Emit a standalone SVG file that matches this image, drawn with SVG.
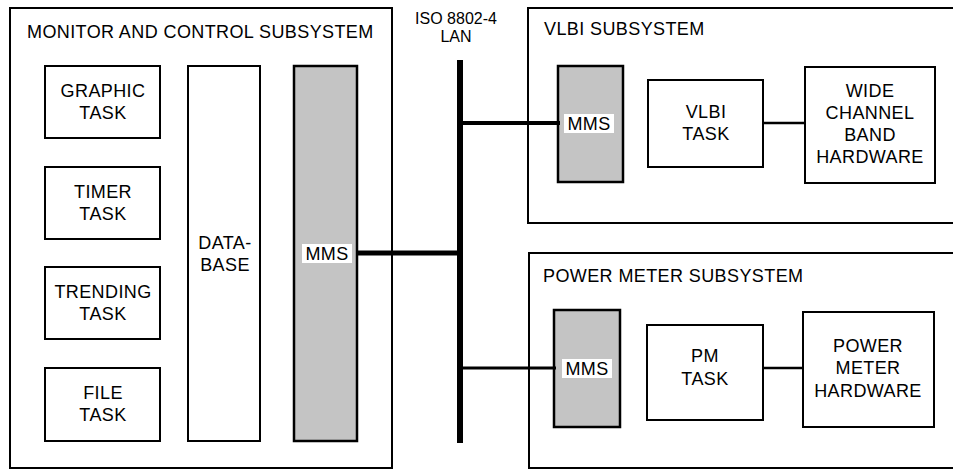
<svg xmlns="http://www.w3.org/2000/svg" width="953" height="470" viewBox="0 0 953 470">
<style>
text{font-family:"Liberation Sans",Arial,sans-serif;font-size:18px;letter-spacing:0.4px;fill:#000}
.c{text-anchor:middle}
.sm{font-size:16px;letter-spacing:0}
.box{fill:#fff;stroke:#000;stroke-width:2}
.sub{fill:none;stroke:#000;stroke-width:2}
.mms{fill:#c4c4c4;stroke:#000;stroke-width:2.5}
.lbl{fill:#fff;stroke:none}
.wire{stroke:#000;fill:none}
</style>
<rect width="953" height="470" fill="#fff"/>
<g id="mc-subsystem">
<rect class="sub" x="10" y="8" width="382" height="460"/>
<text x="27" y="38">MONITOR AND CONTROL SUBSYSTEM</text>
</g>
<g id="graphic-task"><rect class="box" x="45" y="66" width="115" height="72"/><text class="c" x="103" y="97">GRAPHIC</text><text class="c" x="103" y="119">TASK</text></g>
<g id="timer-task"><rect class="box" x="45" y="167" width="115" height="72"/><text class="c" x="103" y="198">TIMER</text><text class="c" x="103" y="220">TASK</text></g>
<g id="trending-task"><rect class="box" x="45" y="267" width="115" height="72"/><text class="c" x="103" y="298">TRENDING</text><text class="c" x="103" y="320">TASK</text></g>
<g id="file-task"><rect class="box" x="45" y="368" width="115" height="73"/><text class="c" x="103" y="399">FILE</text><text class="c" x="103" y="421">TASK</text></g>
<g id="database"><rect class="box" x="188" y="66" width="72" height="375"/><text class="c" x="225" y="249">DATA-</text><text class="c" x="225" y="271">BASE</text></g>
<g id="mc-mms"><rect class="mms" x="294" y="66" width="63" height="375"/><rect class="lbl" x="302" y="244" width="50" height="19"/><text class="c" x="327" y="260">MMS</text></g>

<g id="lan-label"><text class="c sm" x="456" y="24">ISO 8802-4</text><text class="c sm" x="456" y="42">LAN</text></g>

<g id="vlbi-subsystem">
<path class="sub" d="M953 8H528V223H953"/>
<text x="544" y="35">VLBI SUBSYSTEM</text>
</g>
<g id="vlbi-mms"><rect class="mms" x="558" y="66" width="65" height="116"/><rect class="lbl" x="564" y="114" width="50" height="19"/><text class="c" x="589" y="130">MMS</text></g>
<g id="vlbi-task"><rect class="box" x="648" y="80" width="115" height="87"/><text class="c" x="706" y="118">VLBI</text><text class="c" x="706" y="140">TASK</text></g>
<g id="wide-band-hw"><rect class="box" x="805" y="67" width="130" height="116"/><text class="c" x="870" y="97">WIDE</text><text class="c" x="870" y="119">CHANNEL</text><text class="c" x="870" y="141">BAND</text><text class="c" x="870" y="163">HARDWARE</text></g>

<g id="pm-subsystem">
<path class="sub" d="M953 253H529V468H953"/>
<text x="543" y="282">POWER METER SUBSYSTEM</text>
</g>
<g id="pm-mms"><rect class="mms" x="554" y="310" width="66" height="117"/><rect class="lbl" x="562" y="359" width="50" height="19"/><text class="c" x="587" y="375">MMS</text></g>
<g id="pm-task"><rect class="box" x="647" y="325" width="116" height="95"/><text class="c" x="705" y="362">PM</text><text class="c" x="705" y="385">TASK</text></g>
<g id="pm-hw"><rect class="box" x="803" y="312" width="131" height="115"/><text class="c" x="868" y="352">POWER</text><text class="c" x="868" y="374">METER</text><text class="c" x="868" y="397">HARDWARE</text></g>

<g id="connectors">
<line class="wire" x1="460" y1="60" x2="460" y2="443" stroke-width="6"/>
<line class="wire" x1="357" y1="253" x2="460" y2="253" stroke-width="5"/>
<line class="wire" x1="460" y1="123" x2="560" y2="123" stroke-width="4"/>
<line class="wire" x1="460" y1="368" x2="556" y2="368" stroke-width="3"/>
<line class="wire" x1="763" y1="123" x2="805" y2="123" stroke-width="2.5"/>
<line class="wire" x1="763" y1="368" x2="803" y2="368" stroke-width="2.5"/>
</g>
</svg>
